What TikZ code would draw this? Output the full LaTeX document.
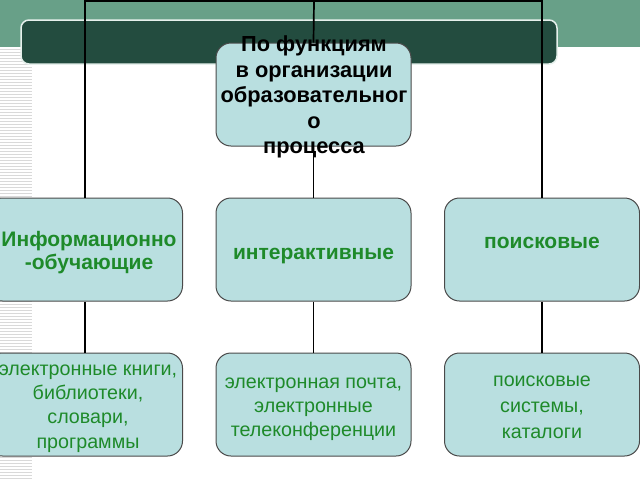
\documentclass[tikz,border=0pt]{standalone}
\usepackage{fontspec}
\setmainfont{Liberation Sans}
\definecolor{band}{HTML}{68A088}
\definecolor{bar}{HTML}{234C3F}
\definecolor{barrim}{HTML}{E6F0EC}
\definecolor{stripe}{HTML}{D9D9D9}
\definecolor{boxfill}{HTML}{B9DFE0}
\definecolor{boxborder}{HTML}{4A4A4A}
\definecolor{txtgreen}{HTML}{1E8A2A}
\begin{document}
\begin{tikzpicture}[x=1pt,y=-1pt,
  box/.style={draw=boxborder, fill=boxfill, rounded corners=15pt,
    minimum width=195pt, minimum height=103pt, line width=1pt,
    inner sep=0pt},
  conn/.style={draw=black, line width=1.7pt},
  plaintext/.style={inner sep=0pt, align=center},
  toptext/.style={plaintext, text=black, font=\fontsize{21.8}{25.5}\selectfont\bfseries},
  greenhead/.style={plaintext, text=txtgreen, font=\fontsize{21}{23.5}\selectfont\bfseries},
  greenbody/.style={plaintext, text=txtgreen, font=\fontsize{19.7}{24.2}\selectfont}]
\useasboundingbox (0,0) rectangle (640,480);
\clip (0,0) rectangle (640,480);
\fill[white] (0,0) rectangle (640,480);
\fill[band] (0,0) rectangle (640,47);
\foreach \y in {49,52,...,478} \draw[stripe, line width=1pt] (0,\y) -- (32,\y);
\draw[barrim, line width=1.5pt, fill=bar, rounded corners=8pt] (21,20) rectangle (557,64);
% boxes
\node[box] (top) at (313.5,94.5) {};
\node[box] (info) at (85,249.5) {};
\node[box] (inter) at (313.5,249.5) {};
\node[box] (search) at (542,249.5) {};
\node[box] (books) at (85,404.5) {};
\node[box] (mail) at (313.5,404.5) {};
\node[box] (catalog) at (542,404.5) {};
% connectors
\coordinate (tm) at (314,1);
\draw[conn] (info.north) |- (tm) -| (search.north);
\draw[conn] (tm) -- (top.north);
\draw[conn] (top.south) -- (inter.north);
\draw[conn] (info.south) -- (books.north);
\draw[conn] (inter.south) -- (mail.north);
\draw[conn] (search.south) -- (catalog.north);
% texts
\node[toptext] (toptxt) at (314,97) {По функциям\\ в организации\\образовательног\\о\\процесса};
\node[greenhead] (infotxt) at (89,252.5) {Информационно\\-обучающие};
\node[greenhead] (intertxt) at (313.5,256.5) {интерактивные};
\node[greenhead] (searchtxt) at (542,243) {поисковые};
\node[greenbody] (bookstxt) at (88,408.5) {электронные книги,\\библиотеки,\\словари,\\программы};
\node[greenbody] (mailtxt) at (313.5,409.5) {электронная почта,\\электронные\\телеконференции};
\node[greenbody, font=\fontsize{19.7}{26}\selectfont] (catalogtxt) at (542,407.5) {поисковые\\системы,\\каталоги};
\end{tikzpicture}
\end{document}
